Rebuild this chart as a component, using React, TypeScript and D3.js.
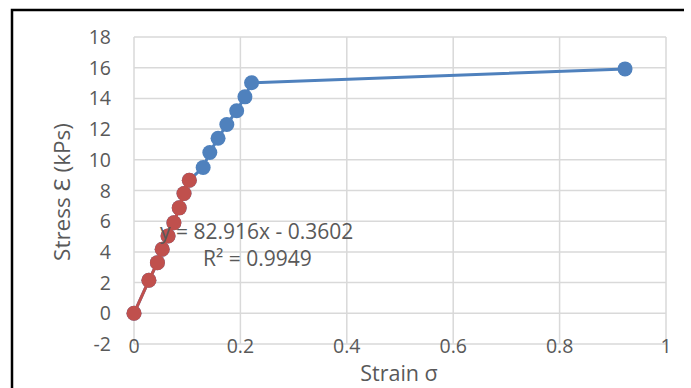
import React, { useRef, useEffect } from "react";
import * as d3 from "d3";

// full stress-strain curve (blue)
const strainAll = [0, 0.028, 0.044, 0.053, 0.064, 0.075, 0.085, 0.094, 0.104, 0.13, 0.1425, 0.158, 0.1745, 0.193, 0.2085, 0.221, 0.923];
const stressAll = [0, 2.15, 3.3, 4.17, 5.04, 5.9, 6.87, 7.8, 8.67, 9.5, 10.48, 11.4, 12.3, 13.2, 14.1, 15.02, 15.92];
// linear region (red)
const strainLin = [0, 0.028, 0.044, 0.053, 0.064, 0.075, 0.085, 0.094, 0.104];
const stressLin = [0, 2.15, 3.3, 4.17, 5.04, 5.9, 6.87, 7.8, 8.67];

const xTicks = [0, 0.2, 0.4, 0.6, 0.8, 1];
const yTicks = [-2, 0, 2, 4, 6, 8, 10, 12, 14, 16, 18];
const trendLabel = "y = 82.916x - 0.3602";
const r2Label = "R² = 0.9949";

const W = 691;
const H = 388;
const FONT = "'Open Sans', 'Noto Sans', sans-serif";
const TXT = "#595959";
const BLUE = "#4F81BD";
const RED = "#C0504D";

const App = () => {
  const svgRef = useRef<SVGSVGElement | null>(null);

  useEffect(() => {
    if (!svgRef.current) return;
    const svg = d3.select(svgRef.current);
    svg.selectAll("*").remove();

    const x = d3.scaleLinear().domain([0, 1]).range([134, 666]);
    const y = d3.scaleLinear().domain([-2, 18]).range([344, 37]);

    // chart border
    svg.append("path")
      .attr("d", `M12,${H} L12,10 L684,10`)
      .attr("fill", "none")
      .attr("stroke", "#000")
      .attr("stroke-width", 2.5);

    // gridlines
    const grid = svg.append("g").attr("stroke", "#D9D9D9").attr("stroke-width", 1.5);
    grid.selectAll("line.h").data(yTicks).enter().append("line")
      .attr("x1", x(0)).attr("x2", x(1))
      .attr("y1", (d) => y(d)).attr("y2", (d) => y(d));
    grid.selectAll("line.v").data(xTicks).enter().append("line")
      .attr("x1", (d) => x(d)).attr("x2", (d) => x(d))
      .attr("y1", y(-2)).attr("y2", y(18));

    // y tick labels
    svg.append("g").selectAll("text").data(yTicks).enter().append("text")
      .attr("x", 111).attr("y", (d) => y(d)).attr("dy", "0.36em")
      .attr("text-anchor", "end")
      .attr("fill", TXT).attr("font-family", FONT).attr("font-size", 19.5)
      .text((d) => String(d));

    // x tick labels
    svg.append("g").selectAll("text").data(xTicks).enter().append("text")
      .attr("x", (d) => x(d)).attr("y", 346).attr("dy", "0.36em")
      .attr("text-anchor", "middle")
      .attr("fill", TXT).attr("font-family", FONT).attr("font-size", 19.5)
      .text((d) => String(d));

    // axis titles
    svg.append("text")
      .attr("x", 399).attr("y", 373).attr("dy", "0.36em")
      .attr("text-anchor", "middle")
      .attr("fill", TXT).attr("font-family", FONT).attr("font-size", 21.5)
      .text("Strain σ");
    svg.append("text")
      .attr("transform", "translate(62,192) rotate(-90)")
      .attr("dy", "0.36em")
      .attr("text-anchor", "middle")
      .attr("fill", TXT).attr("font-family", FONT).attr("font-size", 22.5)
      .text("Stress Ɛ (kPs)");

    const line = d3.line<[number, number]>()
      .x((d) => x(d[0]))
      .y((d) => y(d[1]));

    const all: [number, number][] = strainAll.map((s, i) => [s, stressAll[i]]);
    const lin: [number, number][] = strainLin.map((s, i) => [s, stressLin[i]]);

    const series = [
      { data: all, color: BLUE },
      { data: lin, color: RED },
    ];

    series.forEach((s) => {
      svg.append("path")
        .datum(s.data)
        .attr("d", line)
        .attr("fill", "none")
        .attr("stroke", s.color)
        .attr("stroke-width", 3);
      svg.append("g").selectAll("circle").data(s.data).enter().append("circle")
        .attr("cx", (d) => x(d[0]))
        .attr("cy", (d) => y(d[1]))
        .attr("r", 7.5)
        .attr("fill", s.color);
    });

    // trendline label
    svg.append("text")
      .attr("x", 160).attr("y", 239)
      .attr("fill", TXT).attr("font-family", FONT).attr("font-size", 21)
      .text(trendLabel);
    svg.append("text")
      .attr("x", 203).attr("y", 266)
      .attr("fill", TXT).attr("font-family", FONT).attr("font-size", 21)
      .text(r2Label);
  }, []);

  return <svg ref={svgRef} width={W} height={H} style={{ position: "absolute", left: 0, top: 0, background: "#fff" }}></svg>;
};

export default App;
